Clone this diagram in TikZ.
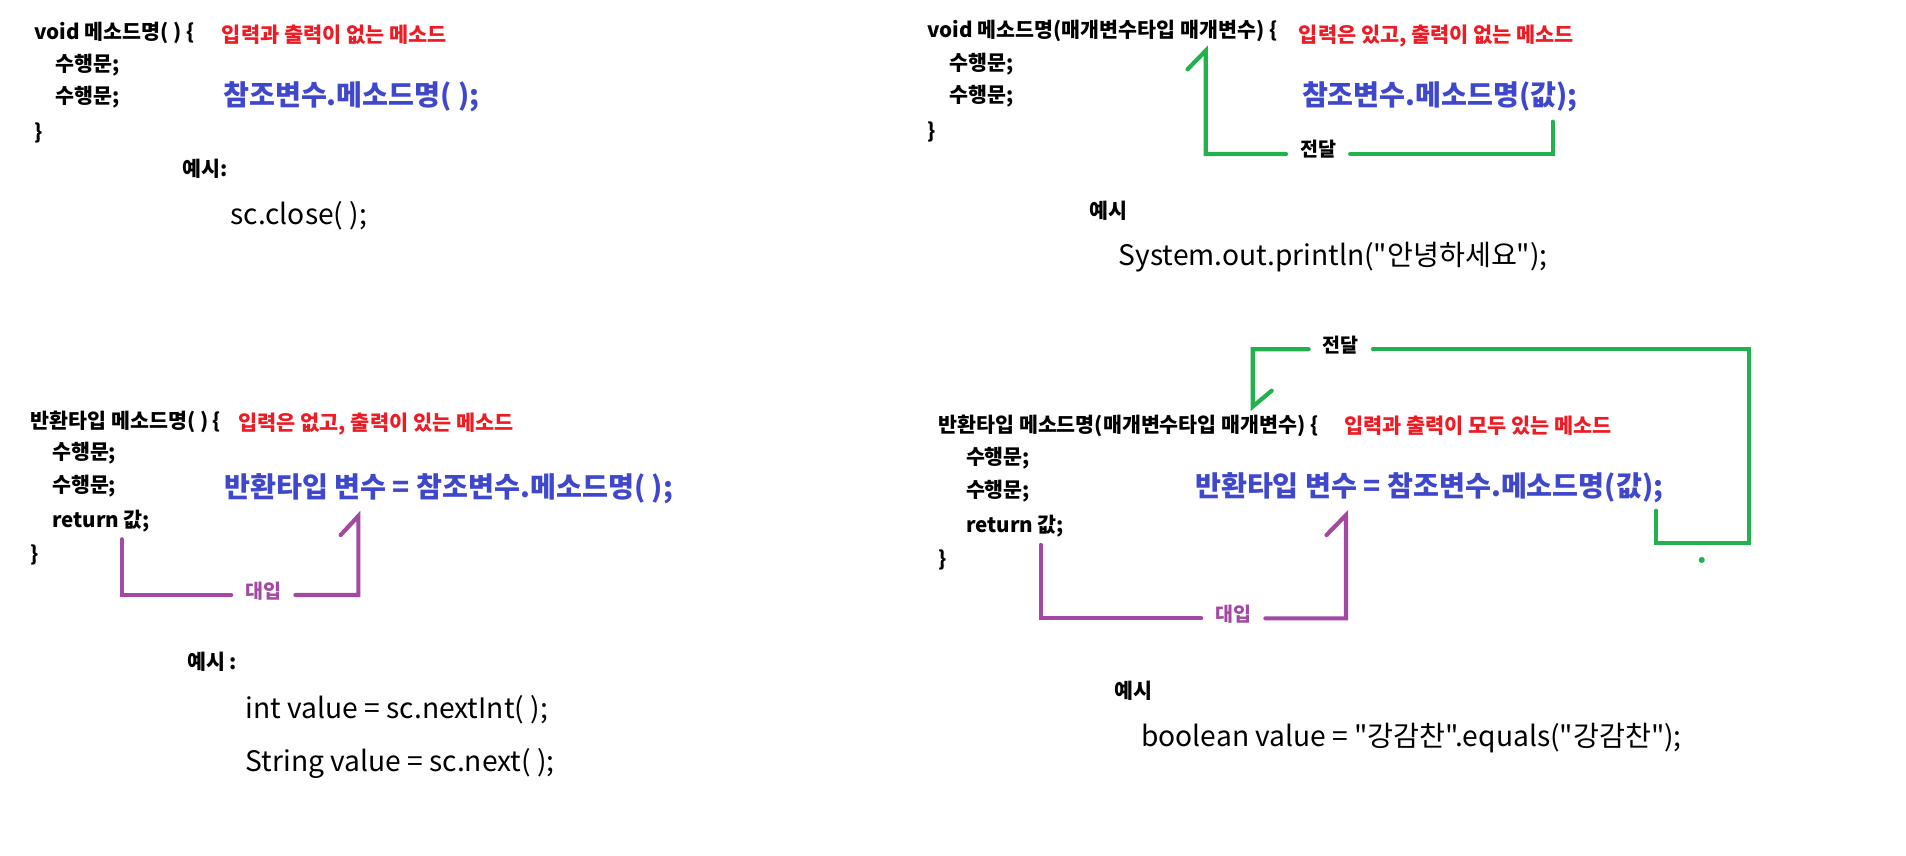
\documentclass[tikz,border=0pt]{standalone}
\usepackage{fontspec}
\setmainfont{Noto Sans CJK KR}[Ligatures=TeXOff]
\definecolor{mred}{HTML}{ED1C24}
\definecolor{mblue}{HTML}{3F48CC}
\definecolor{mgreen}{HTML}{22B14C}
\definecolor{mpurple}{HTML}{A349A4}
\tikzset{
  txt/.style={anchor=west, inner sep=0pt, text height=0.8em, text depth=0.2em},
  small/.style={txt, font=\bfseries\fontsize{20.6pt}{23pt}\selectfont},
  note/.style={txt, text=mred, font=\bfseries\fontsize{20.8pt}{23pt}\selectfont},
  call/.style={txt, text=mblue, font=\bfseries\fontsize{28.2pt}{31pt}\selectfont},
  example/.style={txt, font=\fontsize{28.2pt}{32pt}\selectfont},
  lbl/.style={inner xsep=14pt, inner ysep=0pt, text height=0.8em, text depth=0.2em, font=\bfseries\fontsize{19.5pt}{22pt}\selectfont},
  gline/.style={draw=mgreen, line width=4.2pt, line cap=round},
  pline/.style={draw=mpurple, line width=4.2pt, line cap=round},
}
\begin{document}
\begin{tikzpicture}[x=1.2218pt,y=-1.2218pt]
\useasboundingbox (0,0) rectangle (1560,700.6);
\fill[white] (0,0) rectangle (1560,700.6);

% ---------- top left ----------
\node[small] (a1) at (28,30) {void 메소드명( ) \{};
\node[note]  (a2) at (181.5,32.5) {입력과 출력이 없는 메소드};
\node[small] (a3) at (45.5,56) {수행문;};
\node[small] (a4) at (45.5,82.5) {수행문;};
\node[small] (a5) at (28,111.5) {\}};
\node[call]  (a6) at (182.5,83.5) {참조변수.메소드명( );};
\node[small] (a7) at (149.5,142) {예시:};
\node[example] (a8) at (188.5,181) {sc.close( );};

% ---------- top right ----------
\node[small] (b1) at (759,28.5) {void 메소드명(매개변수타입 매개변수) \{};
\node[note]  (b2) at (1063,32.5) {입력은 있고, 출력이 없는 메소드};
\node[small] (b3) at (777,55) {수행문;};
\node[small] (b4) at (777,81.5) {수행문;};
\node[small] (b5) at (759,110.5) {\}};
\node[call]  (b6) at (1065.5,83.5) {참조변수.메소드명(값);};
\node[small] (b7) at (891.5,176) {예시};
\node[example] (b8) at (915.5,215) {System.out.println("안녕하세요");};

\coordinate (g1s) at (1270.8,99.6);
\coordinate (g1e) at (986.8,41.5);
\node[lbl] (g1l) at (1078.8,126) {전달};
\draw[gline] (g1s) |- (g1l.east);
\draw[gline] (g1l.west) -| (g1e) -- ++(-14.8,15.2);

% ---------- bottom left ----------
\node[small] (c1) at (25,348.5) {반환타입 메소드명( ) \{};
\node[note]  (c2) at (195,350) {입력은 없고, 출력이 있는 메소드};
\node[small] (c3) at (42.5,374) {수행문;};
\node[small] (c4) at (42.5,401) {수행문;};
\node[small] (c5) at (42.5,429.5) {return 값;};
\node[small] (c6) at (25,457.5) {\}};
\node[call]  (c7) at (183.5,405) {반환타입 변수 = 참조변수.메소드명( );};
\node[small] (c8) at (153,545.5) {예시 :};
\node[example] (c9) at (201,585.5) {int value = sc.nextInt( );};
\node[example] (c10) at (201,629) {String value = sc.next( );};

\coordinate (p1s) at (99.6,441.4);
\coordinate (p1e) at (293.3,422.3);
\node[lbl, text=mpurple] (p1l) at (215.5,487) {대입};
\draw[pline] (p1s) |- (p1l.west);
\draw[pline] (p1l.east) -| (p1e) -- ++(-14.5,15.6);

% ---------- bottom right ----------
\node[small] (d1) at (768,351.5) {반환타입 메소드명(매개변수타입 매개변수) \{};
\node[note]  (d2) at (1100,352.5) {입력과 출력이 모두 있는 메소드};
\node[small] (d3) at (790.5,378) {수행문;};
\node[small] (d4) at (790.5,404.5) {수행문;};
\node[small] (d5) at (790.5,433.5) {return 값;};
\node[small] (d6) at (768,461) {\}};
\node[call]  (d7) at (978,403.8) {반환타입 변수 = 참조변수.메소드명(값);};
\node[small] (d8) at (912,569.5) {예시};
\node[example] (d9) at (934,608.5) {boolean value = "강감찬".equals("강감찬");};

\coordinate (g2s) at (1355.4,418);
\coordinate (g2c) at (1431.6,444.5);
\coordinate (g2e) at (1025.3,332.8);
\node[lbl] (g2l) at (1097.4,285.8) {전달};
\draw[gline] (g2s) |- (g2c) |- (g2l.east);
\draw[gline] (g2l.west) -| (g2e) -- ++(15.5,-13);
\fill[mgreen] (1392.8,458.3) circle (2.5);

\coordinate (p2s) at (851.8,446);
\coordinate (p2e) at (1101.7,421.5);
\node[lbl, text=mpurple] (p2l) at (1009.4,506.1) {대입};
\draw[pline] (p2s) |- (p2l.west);
\draw[pline] (p2l.east) -| (p2e) -- ++(-16,16.4);
\end{tikzpicture}
\end{document}
